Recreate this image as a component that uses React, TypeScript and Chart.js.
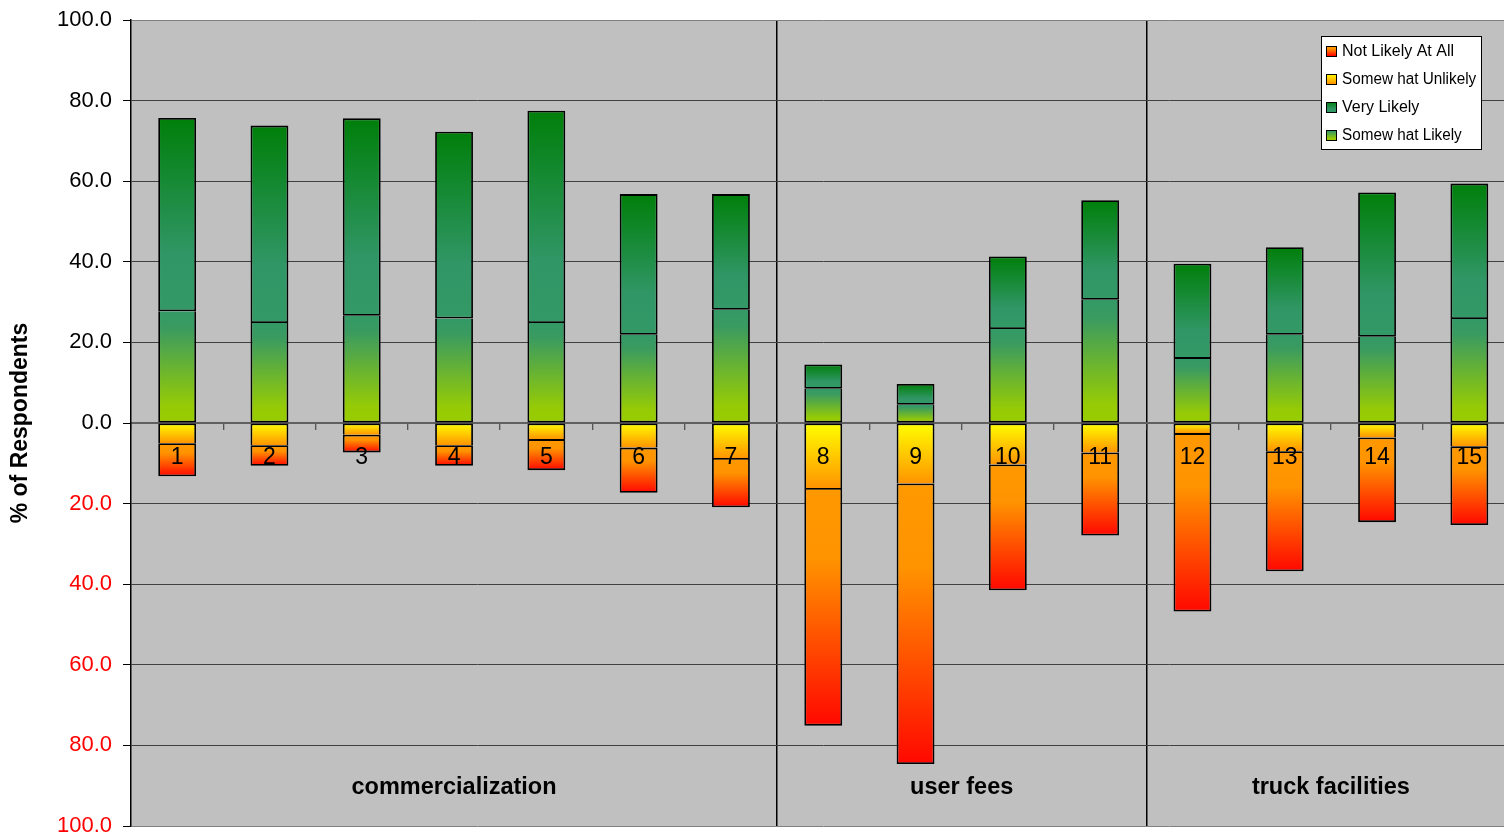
import React, { useEffect, useRef } from 'react';
import { Chart, registerables } from 'chart.js';

Chart.register(...registerables);

const categories = ['1', '2', '3', '4', '5', '6', '7', '8', '9', '10', '11', '12', '13', '14', '15'];
const somewhatLikely = [27.7, 24.8, 26.6, 25.9, 24.8, 21.9, 28.1, 8.5, 4.5, 23.3, 30.6, 15.9, 21.9, 21.4, 25.8];
const veryLikely = [48.0, 49.0, 49.0, 46.4, 52.7, 34.9, 28.7, 6.0, 5.2, 18.0, 24.7, 23.6, 21.7, 35.8, 33.6];
const somewhatUnlikely = [-5.0, -5.5, -2.9, -5.5, -4.0, -6.1, -8.7, -16.1, -15.0, -10.3, -7.3, -2.5, -7.0, -3.6, -5.8];
const notLikely = [-8.2, -5.1, -4.4, -5.1, -7.7, -11.2, -12.2, -59.0, -69.6, -31.2, -20.6, -44.3, -29.8, -21.0, -19.5];

const groupLabels = ['commercialization', 'user fees', 'truck facilities'];
const groupFirst = [0, 7, 11];
const groupLast = [6, 10, 14];

const legendOrder = ['Not Likely At All', 'Somew hat Unlikely', 'Very Likely', 'Somew hat Likely'];

const FONT = "'Liberation Sans', Arial, sans-serif";

type Stops = [number, string][];
const STOPS_VL: Stops = [[0, '#007f0a'], [0.7, '#309665'], [1, '#339966']];
const STOPS_SL: Stops = [[0, '#339966'], [0.15, '#3a9b60'], [0.85, '#96cb05'], [1, '#99cc00']];
const STOPS_SU: Stops = [[0, '#ffff00'], [1, '#ff9400']];
const STOPS_NL: Stops = [[0, '#ff9900'], [0.3, '#ff9300'], [1, '#ff0800']];

function segGradient(stops: Stops) {
  return (ctx: any) => {
    const chart = ctx.chart;
    const y = chart.scales && chart.scales.y;
    if (!y || !chart.chartArea || ctx.type !== 'data') return stops[0][1];
    const ds = chart.data.datasets;
    const i = ctx.dataIndex;
    const di = ctx.datasetIndex;
    const v = ds[di].data[i] as number;
    let base = 0;
    for (let k = 0; k < di; k++) {
      const w = ds[k].data[i] as number;
      if (Math.sign(w) === Math.sign(v)) base += w;
    }
    const p1 = y.getPixelForValue(base);
    const p2 = y.getPixelForValue(base + v);
    const top = Math.min(p1, p2);
    let bot = Math.max(p1, p2);
    if (bot - top < 1) bot = top + 1;
    const g = chart.ctx.createLinearGradient(0, top, 0, bot);
    stops.forEach(([o, c]) => g.addColorStop(o, c));
    return g;
  };
}

const stopsByLabel: Record<string, Stops> = {
  'Not Likely At All': STOPS_NL,
  'Somew hat Unlikely': STOPS_SU,
  'Very Likely': STOPS_VL,
  'Somew hat Likely': STOPS_SL,
};

const decorPlugin = {
  id: 'decor',
  beforeDraw(chart: any) {
    const { ctx, chartArea } = chart;
    ctx.save();
    ctx.fillStyle = '#c0c0c0';
    ctx.fillRect(chartArea.left, chartArea.top, chartArea.right - chartArea.left, chartArea.bottom - chartArea.top);
    ctx.restore();
  },
  afterDraw(chart: any) {
    const { ctx } = chart;
    const x = chart.scales.x;
    ctx.save();
    // group labels
    ctx.fillStyle = '#000';
    ctx.font = `bold 23.5px ${FONT}`;
    ctx.textAlign = 'center';
    ctx.textBaseline = 'alphabetic';
    groupLabels.forEach((lab, g) => {
      const cx = (x.getPixelForValue(groupFirst[g]) + x.getPixelForValue(groupLast[g])) / 2;
      ctx.fillText(lab, cx, 794);
    });
    // legend
    const lx = 1321, ly = 36, lw = 160, lh = 113;
    ctx.fillStyle = '#ffffff';
    ctx.fillRect(lx, ly, lw, lh);
    ctx.strokeStyle = '#000';
    ctx.lineWidth = 1;
    ctx.strokeRect(lx + 0.5, ly + 0.5, lw, lh);
    ctx.font = `16px ${FONT}`;
    ctx.textAlign = 'left';
    ctx.textBaseline = 'middle';
    legendOrder.forEach((lab, k) => {
      const cy = 50.7 + k * 28.1;
      const stops = stopsByLabel[lab];
      const g = ctx.createLinearGradient(0, cy - 5, 0, cy + 5);
      stops.forEach(([o, c]) => g.addColorStop(o, c));
      ctx.fillStyle = g;
      ctx.fillRect(1326, Math.round(cy - 5), 10, 10);
      ctx.strokeStyle = '#000';
      ctx.strokeRect(1326.5, Math.round(cy - 5) + 0.5, 10, 10);
      ctx.fillStyle = '#000';
      const w = ctx.measureText(lab).width;
      const maxW = lab.indexOf('Somew') === 0 ? w * 0.955 : w;
      ctx.fillText(lab, 1342, cy + 1, maxW);
    });
    ctx.restore();
  },
};

export default function App() {
  const canvasRef = useRef<HTMLCanvasElement | null>(null);

  useEffect(() => {
    const canvas = canvasRef.current;
    if (!canvas) return;
    const common = {
      borderColor: '#000000',
      borderWidth: 1.8,
      inflateAmount: 0,
      barPercentage: 0.41,
      categoryPercentage: 1.0,
      stack: 's',
    };
    const chart = new Chart(canvas, {
      type: 'bar',
      data: {
        labels: categories,
        datasets: [
          { label: 'Somew hat Likely', data: somewhatLikely, backgroundColor: segGradient(STOPS_SL), ...common, borderSkipped: 'end' },
          { label: 'Very Likely', data: veryLikely, backgroundColor: segGradient(STOPS_VL), ...common, borderSkipped: false },
          { label: 'Somew hat Unlikely', data: somewhatUnlikely, backgroundColor: segGradient(STOPS_SU), ...common, borderSkipped: 'end' },
          { label: 'Not Likely At All', data: notLikely, backgroundColor: segGradient(STOPS_NL), ...common, borderSkipped: false },
        ] as any,
      },
      options: {
        animation: false,
        responsive: false,
        maintainAspectRatio: false,
        layout: { padding: { left: 0, top: 20, right: 4.5, bottom: 11 } },
        plugins: {
          legend: { display: false },
          tooltip: { enabled: false },
          title: { display: false },
        },
        scales: {
          x: {
            type: 'category',
            stacked: true,
            offset: true,
            position: { y: 0 } as any,
            grid: {
              offset: true,
              drawOnChartArea: true,
              color: (c: any) => (c.index === 7 || c.index === 11 ? '#000000' : 'rgba(0,0,0,0)'),
              lineWidth: 1.5,
              tickColor: '#333333',
              tickLength: 6,
              tickWidth: 1,
            },
            border: { display: true, color: '#606060', width: 2 },
            ticks: {
              z: 1,
              color: '#000000',
              font: { family: FONT, size: 23 },
              padding: 15,
              maxRotation: 0,
              autoSkip: false,
            },
          },
          y: {
            type: 'linear',
            stacked: true,
            min: -100,
            max: 100,
            afterFit: (s: any) => {
              s.width = 131;
              s.paddingTop = 0;
              s.paddingBottom = 0;
            },
            grid: {
              color: (c: any) => {
                const v = c.tick ? c.tick.value : 1;
                if (v === 0) return 'rgba(0,0,0,0)';
                if (v === 100 || v === -100) return '#808080';
                return '#404040';
              },
              lineWidth: 1,
              tickColor: '#000000',
              tickLength: 8,
            },
            border: { display: true, color: '#000000', width: 1.5 },
            ticks: {
              stepSize: 20,
              padding: 11,
              color: (c: any) => (c.tick && c.tick.value < 0 ? '#ff0000' : '#000000'),
              font: { family: FONT, size: 22 },
              callback: (v: any) => Math.abs(Number(v)).toFixed(1),
            },
            title: {
              display: true,
              text: '% of Respondents',
              color: '#000000',
              font: { family: FONT, size: 23, weight: 'bold' },
              padding: { top: 7, bottom: 0 },
            },
          },
        },
      } as any,
      plugins: [decorPlugin],
    });
    return () => chart.destroy();
  }, []);

  return (
    <div style={{ position: 'fixed', left: 0, top: 0, width: 1504, height: 837, overflow: 'hidden', background: '#ffffff' }}>
      <canvas ref={canvasRef} width={1520} height={837} style={{ display: 'block', width: 1520, height: 837 }} />
    </div>
  );
}
